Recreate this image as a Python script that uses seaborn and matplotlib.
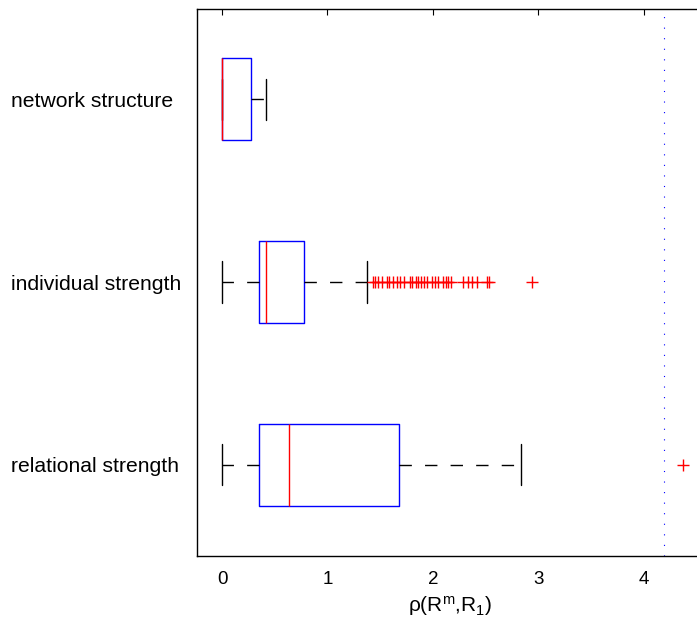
import matplotlib
matplotlib.use("Agg")
import matplotlib.pyplot as plt
import pandas as pd
import seaborn as sns

# ====== DATA ======
features = ["network structure", "individual strength", "relational strength"]
whisker_low = [0.0, 0.0, 0.0]
q1 = [0.0, 0.348, 0.348]
median = [0.0, 0.42, 0.632]
q3 = [0.275, 0.78, 1.68]
whisker_high = [0.42, 1.375, 2.834]
outliers_network = []
outliers_individual = [
    1.43, 1.447, 1.482, 1.513, 1.561, 1.586, 1.624, 1.656, 1.687, 1.725,
    1.782, 1.804, 1.836, 1.861, 1.883, 1.915, 1.940, 1.994, 2.019, 2.051,
    2.098, 2.120, 2.145, 2.168, 2.288, 2.335, 2.367, 2.414, 2.509, 2.534,
    2.935,
]
outliers_relational = [4.37]
reference_value = 4.187

outliers = [outliers_network, outliers_individual, outliers_relational]

# ====== table for seaborn: summary values laid out so the quartiles come back exactly ======
rows = []
for i, name in enumerate(features):
    m = 1 + len(outliers[i])
    vals = ([whisker_low[i]] + [q1[i]] * m + [median[i]] * m + [q3[i]] * m
            + [whisker_high[i]] + outliers[i])
    rows += [(name, v) for v in vals]
df = pd.DataFrame(rows, columns=["feature", "rho"])

# ====== style ======
sns.set_style("white")
plt.rcParams["font.family"] = ["Liberation Sans", "DejaVu Sans"]
plt.rcParams["mathtext.default"] = "regular"
plt.rcParams["text.color"] = "black"
plt.rcParams["axes.labelcolor"] = "black"
plt.rcParams["xtick.color"] = "black"
plt.rcParams["ytick.color"] = "black"

fig = plt.figure(figsize=(6.97, 6.23), dpi=100)
ax = fig.add_axes([197 / 697, 67 / 623, 507 / 697, 547 / 623])

sns.boxplot(
    data=df, x="rho", y="feature", order=features, orient="h",
    fill=False, width=0.45, whis=1.5, linewidth=1.0, ax=ax,
    boxprops={"color": "blue"},
    medianprops={"color": "red"},
    whiskerprops={"color": "black", "linestyle": (0, (8.9, 9.5))},
    capprops={"color": "black"},
    flierprops={"marker": "+", "markersize": 9, "markeredgecolor": "red",
                "markeredgewidth": 1.0, "linestyle": "none"},
)

ax.axvline(reference_value, color="blue", linestyle=(0, (1, 8.5)), linewidth=0.8)

ax.set_xlim(-0.237, 4.569)
ax.set_ylim(2.5, -0.495)
ax.set_xticks([0, 1, 2, 3, 4])
ax.set_ylabel("")
ax.set_xlabel("ρ(R$^{m}$,R$_{1}$)", fontsize=15, labelpad=4)

for s in ax.spines.values():
    s.set_color("black")
    s.set_linewidth(1.0)

ax.tick_params(axis="x", direction="in", top=True, length=4, labelsize=13.5, pad=11,
               labelcolor="black")
ax.tick_params(axis="y", length=0, labelsize=15.2, pad=134, labelcolor="black")
for lbl in ax.get_yticklabels():
    lbl.set_horizontalalignment("left")

fig.savefig("out.png", dpi=100)
plt.close(fig)
